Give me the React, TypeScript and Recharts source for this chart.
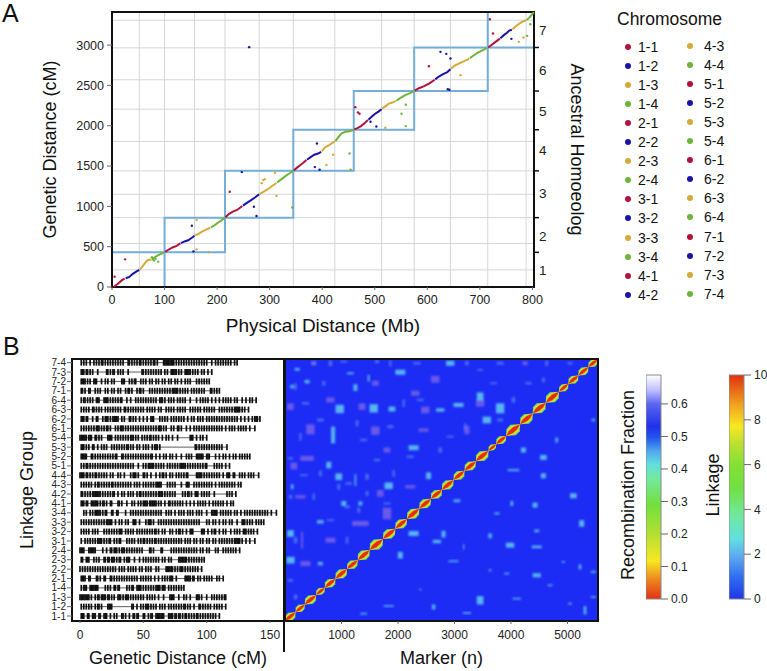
import React from "react";
import {
  Bar,
  BarChart,
  CartesianGrid,
  ReferenceArea,
  Scatter,
  ScatterChart,
  XAxis,
  YAxis,
} from "recharts";

const FONT = '"Liberation Sans", Arial, sans-serif';
const RED = "#b3123c";
const BLUE = "#1a14a6";
const GOLD = "#d5aa38";
const GREEN = "#6db53a";
const GROUP_COLORS = [RED, BLUE, GOLD, GREEN];

const groupNames = [
  "1-1", "1-2", "1-3", "1-4", "2-1", "2-2", "2-3", "2-4", "3-1", "3-2", "3-3", "3-4", "4-1", "4-2",
  "4-3", "4-4", "5-1", "5-2", "5-3", "5-4", "6-1", "6-2", "6-3", "6-4", "7-1", "7-2", "7-3", "7-4",
];

// physical (Mb) vs genetic (cM) trace of each linkage group
const groupTraces = [
  [[3, 0], [8, 25], [14, 55], [19, 85], [24, 105]],
  [[26, 108], [33, 125], [39, 160], [46, 190], [52, 212]],
  [[53, 215], [58, 255], [63, 300], [68, 335], [75, 342]],
  [[76, 345], [82, 372], [88, 395], [94, 415], [100, 432]],
  [[101, 435], [108, 465], [115, 490], [123, 510], [130, 540]],
  [[131, 545], [138, 565], [145, 580], [152, 610], [157, 635]],
  [[158, 640], [165, 660], [172, 690], [180, 715], [187, 735]],
  [[188, 740], [195, 765], [202, 800], [209, 830], [215, 860]],
  [[216, 865], [222, 905], [230, 935], [238, 955], [248, 1005]],
  [[249, 1010], [256, 1040], [264, 1075], [272, 1110], [280, 1150]],
  [[281, 1155], [288, 1180], [296, 1210], [304, 1250], [313, 1290]],
  [[314, 1295], [322, 1335], [330, 1375], [338, 1410], [345, 1440]],
  [[346, 1445], [352, 1480], [358, 1510], [364, 1540], [370, 1574]],
  [[371, 1578], [378, 1610], [385, 1640], [392, 1655], [398, 1677]],
  [[399, 1682], [405, 1730], [412, 1755], [418, 1780], [424, 1805]],
  [[425, 1810], [431, 1860], [437, 1905], [444, 1925], [452, 1930], [460, 1950]],
  [[461, 1955], [467, 1970], [474, 1995], [481, 2035], [487, 2070]],
  [[488, 2075], [494, 2110], [500, 2145], [507, 2175], [513, 2205]],
  [[514, 2210], [520, 2240], [526, 2270], [532, 2285], [540, 2305]],
  [[541, 2310], [549, 2345], [558, 2380], [566, 2400], [575, 2430]],
  [[576, 2435], [584, 2465], [594, 2490], [604, 2525], [614, 2570]],
  [[615, 2575], [622, 2610], [630, 2640], [638, 2665], [644, 2700]],
  [[645, 2705], [652, 2745], [660, 2770], [670, 2800], [680, 2833]],
  [[681, 2838], [688, 2870], [696, 2905], [705, 2935], [714, 2965]],
  [[716, 2970], [722, 3000], [728, 3030], [733, 3055], [738, 3080]],
  [[739, 3085], [745, 3120], [751, 3150], [756, 3180], [761, 3190]],
  [[762, 3195], [768, 3230], [775, 3265], [781, 3290], [788, 3308]],
  [[789, 3312], [794, 3340], [798, 3370], [803, 3408]],
];

const redOutliers = [[5, 128], [25, 343], [224, 1181], [463, 2230], [468, 2165], [471, 2148], [603, 2738], [719, 3321], [725, 3143]];
const blueOutliers = [[261, 2974], [152, 760], [155, 442], [247, 1425], [270, 995], [275, 880], [390, 1780], [386, 1487], [395, 1454], [492, 2049], [503, 1991], [625, 2916], [636, 2891], [644, 2834], [639, 2453], [642, 2445], [760, 3077]];
const goldOutliers = [[161, 830], [161, 467], [184, 434], [310, 1417], [291, 1338], [288, 1326], [285, 1288], [313, 1131], [408, 1512], [421, 1640], [520, 1975], [663, 2627], [774, 3040], [783, 3094]];
const greenOutliers = [[76, 370], [78, 345], [80, 330], [83, 350], [88, 315], [343, 987], [452, 1656], [454, 1454], [551, 2148], [559, 2260], [559, 1995], [790, 3114], [796, 3259]];

const chromosomeEdgesMb = [25, 52, 75, 100, 130, 157, 187, 215, 248, 280, 313, 345, 370, 398, 424, 460, 487, 513, 540, 575, 614, 644, 680, 715, 738, 761, 788];
const chromosomeEdgesCm = [105, 212, 342, 432, 540, 635, 735, 860, 1005, 1150, 1290, 1440, 1574, 1677, 1805, 1950, 2070, 2205, 2305, 2430, 2570, 2700, 2833, 2965, 3080, 3190, 3308];

// [x1, x2, y1, y2] of the blue homoeolog boxes
const homoeologBoxes = [
  [0, 100, 0, 430],
  [100, 215, 430, 860],
  [215, 345, 860, 1440],
  [345, 460, 1440, 1950],
  [460, 575, 1950, 2430],
  [575, 715, 2430, 2970],
  [715, 803, 2970, 3410],
];
const homoeologEdges = [430, 860, 1440, 1950, 2430, 2970];
const homoeologMids = [210, 632, 1165, 1698, 2181, 2689, 3185];

// marker positions (cM) on each linkage group, same order as groupNames
const markerPositions = [
  [1, 2, 3, 6, 7, 10, 11, 12, 15, 16, 19, 20, 21, 24, 27, 29, 33, 34, 36, 39, 42, 43, 45, 46, 50, 51, 54, 56, 57, 60, 61, 62, 63, 64, 65, 66, 70, 71, 72, 73, 75, 76, 78, 79, 81, 83, 84, 86, 88, 90, 92, 93, 95, 97, 99, 101, 103, 105, 107, 110],
  [1, 3, 5, 7, 9, 12, 14, 15, 17, 22, 23, 24, 25, 41, 42, 45, 48, 50, 52, 53, 54, 56, 58, 60, 63, 65, 67, 70, 72, 74, 76, 78, 80, 82, 83, 85, 87, 90, 94, 95, 97, 99, 101, 103, 106, 108, 110, 112, 115],
  [0, 1, 2, 3, 4, 5, 6, 7, 9, 12, 14, 15, 17, 18, 19, 20, 22, 23, 25, 27, 30, 31, 32, 34, 36, 37, 38, 40, 42, 44, 46, 48, 50, 53, 55, 57, 59, 62, 66, 71, 72, 73, 74, 78, 82, 84, 87, 92, 93, 94, 96, 100, 104, 106, 108, 110, 112, 114, 115],
  [1, 3, 4, 5, 8, 9, 10, 11, 12, 13, 14, 20, 22, 24, 27, 28, 30, 31, 37, 39, 41, 42, 45, 46, 47, 48, 50, 52, 54, 56, 58, 60, 61, 62, 63, 65, 66, 67, 70, 72, 74, 76, 78, 80, 82],
  [1, 2, 3, 4, 7, 8, 13, 14, 16, 19, 20, 24, 25, 27, 29, 31, 33, 35, 37, 39, 41, 43, 45, 48, 50, 52, 54, 56, 59, 62, 65, 67, 69, 71, 72, 73, 76, 83, 84, 85, 86, 87, 89, 90, 93, 95, 98, 100, 102, 104, 108, 110, 113],
  [0, 2, 4, 6, 8, 10, 12, 14, 16, 18, 20, 22, 24, 26, 28, 31, 33, 35, 38, 40, 42, 44, 47, 49, 52, 54, 56, 60, 62, 68, 69, 70, 71, 72, 73, 75, 77, 79, 80, 81, 83, 85, 87, 89, 91, 93, 96],
  [1, 2, 5, 6, 7, 11, 13, 15, 19, 20, 22, 23, 25, 26, 27, 29, 31, 32, 35, 37, 38, 39, 43, 47, 50, 52, 54, 56, 58, 60, 62, 65, 67, 70, 72, 78, 79, 80, 81, 82, 83, 84, 86, 88, 90, 92, 94, 96, 98],
  [0, 1, 2, 3, 7, 8, 9, 10, 11, 12, 18, 21, 24, 25, 27, 28, 29, 31, 33, 34, 35, 37, 39, 41, 43, 45, 47, 49, 55, 56, 58, 64, 65, 72, 74, 76, 78, 80, 82, 84, 86, 88, 90, 92, 95, 97, 100, 102, 107, 109, 113, 115, 117, 119, 121, 123, 126],
  [1, 4, 6, 8, 10, 12, 14, 15, 16, 17, 19, 21, 23, 24, 27, 29, 31, 32, 37, 39, 41, 43, 46, 48, 50, 51, 53, 55, 57, 59, 60, 62, 64, 66, 68, 70, 72, 74, 76, 78, 80, 83, 85, 87, 90, 92, 95, 97, 100, 102, 105, 107, 110, 112, 114, 116, 118, 120, 122, 123, 124, 125, 126, 128, 131, 134, 138],
  [1, 3, 5, 7, 10, 12, 14, 19, 21, 23, 25, 27, 29, 31, 32, 33, 36, 38, 40, 42, 45, 47, 49, 51, 53, 55, 57, 59, 60, 62, 65, 67, 71, 73, 76, 78, 79, 81, 84, 87, 88, 89, 96, 97, 98, 101, 104, 106, 107, 110, 113, 115, 119, 122, 124, 126, 129, 130, 131, 133, 135, 137, 140],
  [1, 3, 5, 7, 9, 11, 13, 15, 17, 19, 21, 22, 23, 24, 25, 28, 31, 33, 36, 38, 42, 43, 44, 47, 52, 54, 55, 56, 58, 62, 64, 66, 68, 70, 72, 74, 76, 78, 80, 82, 84, 86, 88, 90, 92, 94, 100, 102, 105, 107, 110, 113, 115, 118, 120, 124, 128, 129, 130, 132, 134, 136, 139, 141, 143, 145],
  [3, 5, 8, 10, 12, 13, 14, 15, 16, 18, 20, 21, 25, 26, 29, 30, 36, 40, 42, 44, 46, 48, 50, 52, 54, 56, 58, 60, 62, 64, 68, 70, 72, 75, 78, 80, 82, 85, 87, 89, 92, 94, 96, 100, 104, 105, 106, 107, 108, 111, 113, 115, 117, 119, 122, 124, 127, 130, 132, 134, 136, 138, 140, 142, 144, 146, 148, 151, 155],
  [1, 2, 3, 5, 6, 9, 10, 11, 12, 13, 14, 16, 18, 19, 21, 24, 25, 30, 31, 33, 37, 41, 43, 46, 48, 50, 51, 52, 53, 55, 56, 57, 58, 59, 60, 62, 64, 67, 70, 71, 73, 75, 77, 79, 81, 84, 87, 90, 93, 95, 97, 99, 102, 105, 107, 109, 111, 113, 116, 119, 121],
  [1, 2, 4, 6, 8, 10, 11, 12, 13, 14, 15, 16, 18, 20, 22, 24, 26, 27, 30, 33, 35, 38, 40, 42, 45, 47, 48, 50, 52, 54, 56, 58, 60, 62, 63, 64, 65, 67, 69, 71, 73, 75, 81, 83, 85, 86, 88, 91, 92, 93, 96, 98, 100, 102, 106, 116, 118, 120, 123],
  [1, 3, 5, 7, 9, 12, 14, 15, 17, 19, 21, 23, 25, 26, 28, 30, 32, 34, 36, 38, 40, 43, 45, 47, 50, 52, 54, 56, 58, 60, 61, 62, 63, 64, 69, 71, 73, 75, 80, 84, 85, 86, 90, 92, 94, 96, 98, 100, 102, 104, 107, 110, 112, 114, 116, 118, 120, 122, 125, 127],
  [0, 1, 2, 3, 5, 6, 8, 10, 12, 13, 15, 17, 19, 21, 24, 26, 30, 32, 35, 40, 42, 43, 44, 46, 50, 51, 53, 56, 60, 63, 65, 66, 68, 71, 73, 76, 78, 80, 82, 84, 85, 92, 93, 94, 95, 96, 98, 100, 102, 104, 106, 108, 110, 113, 116, 117, 118, 121, 122, 126, 128, 130, 133, 135, 137, 141],
  [1, 3, 5, 6, 8, 10, 12, 14, 16, 18, 20, 22, 24, 26, 28, 30, 32, 34, 36, 38, 40, 42, 46, 50, 52, 54, 55, 56, 57, 58, 60, 62, 64, 66, 69, 71, 73, 75, 77, 79, 80, 81, 82, 83, 85, 87, 89, 91, 93, 95, 97, 99, 100, 106, 108, 110, 112, 115, 118],
  [1, 2, 3, 4, 5, 9, 10, 12, 14, 16, 18, 20, 22, 24, 26, 28, 29, 33, 34, 36, 38, 40, 42, 44, 46, 48, 50, 52, 54, 56, 57, 60, 63, 66, 68, 71, 73, 76, 80, 84, 86, 88, 92, 93, 94, 95, 96, 97, 100, 101, 102, 107, 110, 113, 115, 118, 121, 123, 126, 128, 130, 132, 134],
  [1, 2, 3, 5, 7, 10, 11, 14, 17, 19, 21, 25, 27, 29, 31, 33, 35, 37, 38, 40, 42, 45, 47, 50, 52, 54, 57, 59, 60, 61, 63, 91, 92, 94, 96, 98, 100, 102, 104, 106, 108, 110, 112, 116],
  [0, 1, 2, 3, 4, 5, 7, 8, 9, 12, 13, 15, 17, 22, 23, 24, 25, 28, 30, 32, 34, 36, 38, 40, 41, 42, 44, 46, 49, 51, 53, 55, 56, 58, 60, 62, 65, 68, 70, 73, 77, 87, 88, 89, 92, 95, 97, 100],
  [1, 3, 5, 7, 9, 11, 13, 14, 15, 17, 19, 21, 22, 24, 28, 30, 32, 33, 34, 36, 38, 40, 42, 44, 46, 48, 50, 52, 54, 56, 58, 60, 62, 63, 64, 66, 68, 72, 74, 77, 78, 80, 84, 87, 90, 92, 94, 96, 98, 100, 102, 104, 106, 108, 110, 112, 115, 118, 120, 122, 125, 127, 129, 131, 134, 138],
  [1, 2, 3, 5, 6, 10, 13, 14, 18, 20, 21, 22, 24, 26, 27, 28, 29, 30, 33, 35, 39, 40, 42, 44, 47, 50, 53, 56, 57, 58, 63, 65, 67, 69, 72, 74, 76, 78, 80, 82, 85, 88, 90, 93, 95, 97, 100, 102, 104, 106, 108, 110, 112, 114, 116, 118, 120, 122, 124, 127, 130, 133, 136, 138, 139, 140, 142],
  [1, 3, 5, 7, 10, 11, 13, 15, 17, 20, 22, 24, 26, 28, 30, 32, 35, 36, 38, 40, 42, 44, 46, 48, 50, 53, 55, 57, 59, 62, 64, 68, 70, 72, 74, 77, 79, 81, 83, 87, 89, 91, 93, 95, 98, 100, 102, 104, 106, 110, 112, 114, 116, 118, 120, 122, 123, 124, 125, 126, 128, 130, 133],
  [1, 3, 4, 6, 8, 10, 13, 14, 15, 19, 20, 21, 22, 24, 26, 28, 30, 32, 33, 37, 40, 44, 46, 48, 50, 52, 54, 56, 58, 60, 63, 64, 65, 67, 70, 72, 74, 77, 79, 81, 83, 87, 92, 95, 97, 99, 101, 104, 107, 110, 113, 115, 117, 119, 122, 124, 128, 131, 134, 136, 139],
  [1, 2, 4, 7, 8, 12, 14, 16, 20, 22, 25, 27, 30, 32, 36, 38, 39, 41, 45, 47, 48, 50, 55, 57, 59, 61, 63, 65, 67, 69, 71, 73, 74, 75, 76, 77, 79, 81, 83, 85, 88, 90, 92, 94, 96, 98, 103, 104, 106, 108, 110],
  [1, 2, 3, 4, 6, 8, 11, 12, 13, 17, 20, 22, 25, 27, 33, 34, 35, 39, 41, 43, 44, 48, 50, 52, 55, 57, 60, 62, 65, 67, 70, 72, 75, 77, 80, 83, 85, 87, 92, 94, 96, 98, 100, 102],
  [1, 2, 3, 5, 6, 8, 10, 14, 21, 22, 24, 26, 27, 30, 32, 34, 38, 49, 50, 52, 54, 56, 58, 60, 62, 64, 67, 69, 72, 73, 74, 75, 76, 78, 80, 83, 84, 85, 86, 87, 89, 91, 93, 96, 98, 101, 104],
  [1, 3, 5, 8, 11, 13, 15, 17, 18, 20, 22, 24, 26, 28, 30, 32, 34, 38, 39, 41, 43, 45, 47, 48, 50, 52, 54, 56, 58, 59, 61, 66, 67, 68, 69, 70, 71, 72, 73, 74, 76, 78, 80, 82, 84, 86, 88, 90, 92, 94, 96, 98, 100, 104, 107, 109, 111, 113, 115, 117, 119, 122, 124],
];

// marker index at the start of each linkage group, last entry closes 7-4
const groupStarts = [0, 186, 350, 551, 704, 892, 1098, 1287, 1499, 1734, 1952, 2159, 2377, 2583, 2777, 2983, 3178, 3378, 3602, 3737, 3914, 4161, 4385, 4615, 4850, 5015, 5192, 5369, 5534];

// [x, y, xSpan, ySpan] off-diagonal linkage patches, in markers
const cyanPatches = [
  [969, 4483, 147, 177], [2041, 5260, 177, 106], [3071, 4568, 177, 85], [1835, 2859, 147, 141], [851, 3932, 71, 353],
  [97, 1850, 118, 141], [1570, 4497, 147, 177], [1893, 4483, 118, 106], [2748, 4462, 147, 71], [2541, 3071, 88, 141],
  [3808, 4497, 147, 212], [3454, 4744, 118, 177], [3572, 4250, 147, 141], [2924, 5450, 147, 106], [392, 5062, 88, 71],
  [215, 5323, 88, 56], [1157, 5238, 118, 42], [1481, 5133, 35, 141], [1246, 4935, 71, 141], [775, 3297, 88, 141],
  [1246, 2979, 30, 247], [951, 3050, 118, 141], [625, 2097, 118, 71], [97, 1285, 147, 141], [625, 1214, 88, 71],
  [1040, 2485, 88, 106], [2276, 3664, 177, 106], [127, 4956, 71, 71], [1334, 2485, 71, 85], [127, 2838, 47, 106],
  [1835, 318, 177, 35], [3454, 438, 118, 177], [4456, 967, 147, 85], [4456, 1906, 88, 56], [5251, 2062, 88, 141],
  [5104, 2648, 118, 106], [4574, 3071, 88, 106], [4574, 3459, 118, 106], [4809, 3827, 47, 106], [4044, 3191, 206, 42],
  [2689, 1680, 147, 71], [2806, 1836, 71, 141], [2276, 1850, 177, 106], [2041, 1391, 88, 141], [3042, 2542, 118, 56],
  [4014, 2485, 47, 106], [4426, 2450, 88, 106], [3631, 1800, 59, 106], [3984, 1603, 147, 106], [3160, 1567, 24, 106],
  [4456, 1567, 177, 56], [2983, 1264, 177, 35], [3631, 1073, 47, 42], [3926, 1003, 88, 35], [5221, 1144, 47, 106],
  [5457, 1038, 88, 42], [4927, 1250, 59, 35], [5457, 508, 88, 35], [5045, 367, 59, 42], [5310, 226, 47, 177],
  [2630, 297, 59, 106], [1393, 155, 118, 35], [4692, 755, 88, 35], [4220, 3615, 88, 106], [5457, 4250, 59, 56],
  [3749, 2273, 88, 42], [4103, 473, 147, 35], [3219, 169, 147, 35], [2394, 664, 35, 35],
];
const purplePatches = [
  [450, 4052, 147, 212], [1599, 4024, 147, 177], [1687, 2697, 118, 141], [1805, 2273, 147, 247], [1334, 2062, 295, 106],
  [392, 3438, 236, 106], [2659, 5111, 147, 141], [2483, 4462, 147, 141], [3454, 4603, 147, 141], [3219, 4038, 88, 177],
  [2453, 4038, 177, 71], [1805, 3615, 118, 106], [156, 3276, 118, 141], [362, 1214, 177, 106], [804, 4674, 147, 106],
  [1599, 5027, 118, 106], [509, 5450, 71, 85], [4250, 5450, 88, 85], [2306, 4815, 147, 106], [303, 1708, 35, 353],
  [97, 4532, 118, 141], [1363, 4532, 118, 141], [2218, 2838, 177, 71], [804, 1708, 177, 106], [274, 2626, 177, 71],
];
// faint specks and streaks above the diagonal
const faintPatches = [
  [509, 5450, 90, 60], [804, 5450, 60, 120], [1040, 5486, 120, 40], [1629, 5486, 70, 70], [1864, 5450, 40, 130], [2335, 5450, 130, 50],
  [3219, 5450, 60, 90], [3454, 5309, 100, 40], [3808, 5450, 120, 60], [4632, 5450, 50, 110], [5045, 5450, 90, 50], [186, 4956, 40, 150],
  [362, 4603, 130, 50], [686, 5027, 60, 90], [627, 4250, 120, 60], [274, 3897, 40, 160], [97, 3438, 90, 50], [333, 3085, 140, 40],
  [627, 3121, 50, 120], [1128, 2909, 120, 50], [97, 2626, 60, 80], [509, 2626, 40, 140], [1098, 2415, 100, 60], [1305, 2344, 50, 110],
  [804, 2132, 130, 40], [186, 1709, 60, 130], [1098, 1709, 40, 150], [97, 861, 90, 60], [186, 508, 60, 100], [1393, 3827, 120, 50],
  [1275, 4180, 50, 130], [1864, 4109, 110, 60], [2100, 4603, 40, 160], [2394, 4674, 120, 50], [2748, 3615, 60, 110], [2924, 3897, 130, 40],
  [3190, 4109, 40, 140], [3808, 4250, 100, 60], [4044, 4674, 60, 120], [4309, 5027, 110, 50], [4574, 5097, 50, 100], [3690, 5027, 120, 40],
  [1923, 3121, 40, 150], [2218, 3474, 130, 50], [1452, 3050, 60, 120], [1629, 3403, 110, 50], [951, 2838, 50, 120], [1805, 2485, 130, 40],
  [1452, 2697, 50, 100],
];

const recombTicks = [0, 0.1, 0.2, 0.3, 0.4, 0.5, 0.6];
const recombStops = [
  [0, "#e03212"], [0.09, "#ee8a1e"], [0.17, "#f8e822"], [0.28, "#b8e030"], [0.42, "#72e03c"], [0.54, "#74e8a0"],
  [0.6, "#62e0dc"], [0.66, "#50a8f0"], [0.72, "#2256ee"], [0.77, "#2030ea"], [0.87, "#5a66f0"], [0.93, "#bcbcff"], [1, "#ffffff"],
];
const linkageTicks = [0, 2, 4, 6, 8, 10];
const linkageStops = [
  [0, "#2035e8"], [0.1, "#3070f0"], [0.2, "#60b0f0"], [0.27, "#60e0e0"], [0.37, "#70e8a0"], [0.5, "#70e040"],
  [0.6, "#84e034"], [0.7, "#c0e030"], [0.77, "#f8e820"], [0.87, "#f0a020"], [1, "#e03010"],
];

const toPoints = (pairs: number[][]) => pairs.map(([x, y]) => ({ x, y }));

const FRAME = { fill: "none", stroke: "#111", strokeWidth: 2 };
const smallDot = (r: number, color: string) => (p: any) => <circle cx={p.cx} cy={p.cy} r={r} fill={color} />;
const noDot = () => <g />;

function HomoeologTick({ x, y, payload }: any) {
  if (homoeologMids.includes(payload.value)) {
    return (
      <text x={x - 3} y={y + 5} fontSize={13.5} fill="#222" fontFamily={FONT}>
        {homoeologMids.indexOf(payload.value) + 1}
      </text>
    );
  }
  return <line x1={x - 8} x2={x - 3} y1={y} y2={y} stroke="#111" strokeWidth={1.5} />;
}

const LENS = [[0, 0], [0.02, 0.6], [0.3, 0.95], [1, 1], [0.98, 0.4], [0.7, 0.05]];
const LENS_LAYERS: [number, string][] = [[1, "#78dc60"], [0.72, "#d6e830"], [0.48, "#f39a18"], [0.36, "#e0300f"]];

function LensShape({ x, y, width, height }: any) {
  return (
    <g>
      {LENS_LAYERS.map(([k, color]) => (
        <polygon
          key={color}
          fill={color}
          points={LENS.map(([u, v]) => {
            const mid = (u + v) / 2;
            return `${x + (mid + k * (u - mid)) * width},${y + height - (mid + k * (v - mid)) * height}`;
          }).join(" ")}
        />
      ))}
    </g>
  );
}

const softPatch = (color: string, opacity: number) => (p: any) =>
  <rect x={p.x} y={p.y} width={p.width} height={p.height} fill={color} opacity={opacity} filter="url(#soft)" />;

function PanelA() {
  return (
    <div style={{ position: "absolute", left: 0, top: 0 }}>
      <ScatterChart width={600} height={345} margin={{ top: 12, right: 0, bottom: 0, left: 0 }}>
        <CartesianGrid stroke="#d4d6d8" strokeWidth={1} verticalValues={chromosomeEdgesMb} horizontalValues={chromosomeEdgesCm} />
        <XAxis
          dataKey="x"
          type="number"
          domain={[0, 803]}
          ticks={[0, 100, 200, 300, 400, 500, 600, 700, 800]}
          height={58}
          tickSize={3}
          tickMargin={5}
          axisLine={false}
          tick={{ fill: "#222", fontSize: 12.5, fontFamily: FONT }}
          label={{ value: "Physical Distance (Mb)", position: "center", dy: 9, style: { fontSize: 19, fill: "#111", fontFamily: FONT } }}
        />
        <YAxis
          dataKey="y"
          type="number"
          domain={[0, 3410]}
          ticks={[0, 500, 1000, 1500, 2000, 2500, 3000]}
          width={112}
          tickSize={5}
          tickMargin={3}
          axisLine={false}
          tick={{ fill: "#222", fontSize: 12.5, fontFamily: FONT }}
          label={{ value: "Genetic Distance (cM)", position: "center", angle: -90, dx: -6, style: { fontSize: 18, fill: "#111", fontFamily: FONT } }}
        />
        <YAxis
          yAxisId="homoeolog"
          orientation="right"
          type="number"
          dataKey="y"
          domain={[0, 3410]}
          ticks={[...homoeologEdges, ...homoeologMids].sort((a, b) => a - b)}
          interval={0}
          width={66}
          axisLine={false}
          tickLine={false}
          tick={<HomoeologTick />}
          label={{ value: "Ancestral Homoeolog", position: "center", angle: 90, dx: 10, style: { fontSize: 18, fill: "#111", fontFamily: FONT } }}
        />
        {homoeologBoxes.map(([x1, x2, y1, y2]) => (
          <ReferenceArea key={x1} x1={x1} x2={x2} y1={y1} y2={y2} fill="none" stroke="#74aed8" strokeWidth={2} ifOverflow="visible" />
        ))}
        {groupTraces.map((trace, i) => (
          <Scatter
            key={groupNames[i]}
            data={toPoints(trace)}
            isAnimationActive={false}
            line={{ stroke: GROUP_COLORS[i % 4], strokeWidth: 2 }}
            shape={noDot}
          />
        ))}
        <Scatter data={toPoints(redOutliers)} isAnimationActive={false} shape={smallDot(1.2, RED)} />
        <Scatter data={toPoints(blueOutliers)} isAnimationActive={false} shape={smallDot(1.2, BLUE)} />
        <Scatter data={toPoints(goldOutliers)} isAnimationActive={false} shape={smallDot(1.2, GOLD)} />
        <Scatter data={toPoints(greenOutliers)} isAnimationActive={false} shape={smallDot(1.2, GREEN)} />
        <Scatter
          yAxisId="homoeolog"
          data={homoeologMids.map((y) => ({ x: 0, y }))}
          isAnimationActive={false}
          shape={noDot}
        />
        <ReferenceArea x1={0} x2={803} y1={0} y2={3410} {...FRAME} ifOverflow="visible" />
      </ScatterChart>
    </div>
  );
}

function ChromosomeLegend() {
  return (
    <div style={{ position: "absolute", left: 0, top: 0, width: 767, color: "#111", fontFamily: FONT, whiteSpace: "nowrap" }}>
      <div style={{ position: "absolute", left: 617, top: 9, fontSize: 17.5 }}>Chromosome</div>
      {groupNames.map((name, i) => {
        const col = i < 14 ? 0 : 1;
        const row = i % 14;
        const top = 46.5 + row * 19.1 - col;
        return (
          <React.Fragment key={name}>
            <div style={{ position: "absolute", left: col ? 687 : 624.5, top: top - 3, width: 6, height: 6, borderRadius: 3, background: GROUP_COLORS[i % 4] }} />
            <div style={{ position: "absolute", left: col ? 704 : 638, top: top - 8, fontSize: 14, lineHeight: "16px" }}>{name}</div>
          </React.Fragment>
        );
      })}
    </div>
  );
}

function LinkageMap() {
  return (
    <div style={{ position: "absolute", left: 0, top: 340 }}>
      <ScatterChart width={285} height={331} margin={{ top: 19, right: 1, bottom: 0, left: 0 }}>
        <XAxis
          dataKey="x"
          type="number"
          domain={[-6.3, 161]}
          ticks={[0, 50, 100, 150]}
          height={50}
          tickSize={2}
          tickMargin={7}
          axisLine={false}
          tick={{ fill: "#222", fontSize: 12, fontFamily: FONT }}
          label={{ value: "Genetic Distance (cM)", position: "center", dy: 12, style: { fontSize: 18, fill: "#111", fontFamily: FONT } }}
        />
        <YAxis
          dataKey="y"
          type="number"
          domain={[0.47, 28.39]}
          ticks={groupNames.map((_, i) => i + 1)}
          interval={0}
          width={72}
          tickSize={5}
          tickMargin={1}
          axisLine={false}
          tickFormatter={(v) => groupNames[v - 1]}
          tick={{ fill: "#222", fontSize: 10, fontFamily: FONT }}
          label={{ value: "Linkage Group", position: "center", angle: -90, dx: -9, style: { fontSize: 18, fill: "#111", fontFamily: FONT } }}
        />
        {markerPositions.map((row, i) => (
          <Scatter
            key={groupNames[i]}
            data={row.map((x) => ({ x, y: i + 1 }))}
            isAnimationActive={false}
            line={{ stroke: "#333", strokeWidth: 0.8 }}
            shape={(p: any) => <rect x={p.cx - 0.85} y={p.cy - 3} width={1.7} height={6} fill="#111" />}
          />
        ))}
        <ReferenceArea x1={-6.3} x2={161} y1={0.47} y2={28.39} {...FRAME} ifOverflow="visible" />
      </ScatterChart>
    </div>
  );
}

function Heatmap() {
  return (
    <div style={{ position: "absolute", left: 284, top: 340 }}>
      <ScatterChart width={316} height={331} margin={{ top: 19, right: 2, bottom: 0, left: 1 }}>
        <defs>
          <filter id="soft" x="-60%" y="-60%" width="220%" height="220%">
            <feGaussianBlur stdDeviation="1.3" />
          </filter>
        </defs>
        <XAxis
          dataKey="x"
          type="number"
          domain={[0, 5540]}
          ticks={[1000, 2000, 3000, 4000, 5000]}
          height={50}
          tickSize={3}
          tickMargin={6}
          axisLine={false}
          tick={{ fill: "#222", fontSize: 12, fontFamily: FONT }}
          label={{ value: "Marker (n)", position: "center", dy: 12, style: { fontSize: 18, fill: "#111", fontFamily: FONT } }}
        />
        <YAxis dataKey="y" type="number" domain={[0, 5540]} hide />
        <ReferenceArea x1={0} x2={5540} y1={0} y2={5540} fill="#1c2cf4" fillOpacity={1} stroke="none" />
        {faintPatches.map(([x, y, w, h]) => (
          <ReferenceArea key={`f${x}-${y}`} x1={x - w / 2} x2={x + w / 2} y1={y - h / 2} y2={y + h / 2} shape={softPatch("#5a8cf4", 0.7)} />
        ))}
        {purplePatches.map(([x, y, w, h]) => (
          <ReferenceArea key={`p${x}-${y}`} x1={x - w / 2} x2={x + w / 2} y1={y - h / 2} y2={y + h / 2} shape={softPatch("#8468e8", 0.75)} />
        ))}
        {cyanPatches.map(([x, y, w, h]) => (
          <ReferenceArea key={`c${x}-${y}`} x1={x - w / 2} x2={x + w / 2} y1={y - h / 2} y2={y + h / 2} shape={softPatch("#62cdf0", 0.85)} />
        ))}
        {groupNames.map((name, i) => (
          <ReferenceArea
            key={name}
            x1={groupStarts[i]}
            x2={groupStarts[i + 1]}
            y1={groupStarts[i]}
            y2={groupStarts[i + 1]}
            shape={<LensShape />}
          />
        ))}
        {/* the group midpoints give the axes a series to scale against */}
        <Scatter
          data={groupNames.map((_, i) => ({ x: (groupStarts[i] + groupStarts[i + 1]) / 2, y: (groupStarts[i] + groupStarts[i + 1]) / 2 }))}
          isAnimationActive={false}
          shape={noDot}
        />
        <ReferenceArea x1={0} x2={5540} y1={0} y2={5540} {...FRAME} ifOverflow="visible" />
      </ScatterChart>
    </div>
  );
}

function ColorBar({ id, left, max, ticks, stops, digits }: { id: string; left: number; max: number; ticks: number[]; stops: (number | string)[][]; digits: number }) {
  return (
    <div style={{ position: "absolute", left, top: 367 }}>
      <BarChart width={65} height={240} data={[{ name: id, v: max }]} barCategoryGap={0} margin={{ top: 8, right: 0, bottom: 8, left: 0 }}>
        <defs>
          <linearGradient id={id} x1="0" y1="1" x2="0" y2="0">
            {stops.map(([offset, color]) => (
              <stop key={offset} offset={offset as number} stopColor={color as string} />
            ))}
          </linearGradient>
        </defs>
        <XAxis dataKey="name" hide />
        <YAxis
          orientation="right"
          type="number"
          domain={[0, max]}
          ticks={ticks}
          interval={0}
          width={50}
          tickSize={7}
          tickMargin={3}
          axisLine={false}
          tickFormatter={(v) => v.toFixed(digits)}
          tick={{ fill: "#222", fontSize: 12, fontFamily: FONT, textAnchor: "start" }}
        />
        <Bar dataKey="v" fill={`url(#${id})`} stroke="#8a8a8a" isAnimationActive={false} />
      </BarChart>
    </div>
  );
}

function RotatedTitle({ x, y, text }: { x: number; y: number; text: string }) {
  return (
    <div
      style={{
        position: "absolute",
        left: x,
        top: y,
        fontSize: 18,
        color: "#111",
        fontFamily: FONT,
        whiteSpace: "nowrap",
        transform: "translate(-50%, -50%) rotate(-90deg)",
      }}
    >
      {text}
    </div>
  );
}

export default function App() {
  return (
    <div style={{ position: "absolute", left: 0, top: 0, width: 767, height: 671, background: "#fff", overflow: "hidden" }}>
      <div style={{ position: "absolute", left: 2, top: -1, fontSize: 25, color: "#111", fontFamily: FONT }}>A</div>
      <div style={{ position: "absolute", left: 3, top: 332, fontSize: 25, color: "#111", fontFamily: FONT }}>B</div>
      <PanelA />
      <ChromosomeLegend />
      <LinkageMap />
      <Heatmap />
      <div style={{ position: "absolute", left: 283, top: 620, width: 2, height: 32, background: "#111" }} />
      <ColorBar id="recomb" left={646} max={0.689} ticks={recombTicks} stops={recombStops} digits={1} />
      <ColorBar id="linkage" left={729} max={10} ticks={linkageTicks} stops={linkageStops} digits={0} />
      <RotatedTitle x={628} y={485} text="Recombination Fraction" />
      <RotatedTitle x={713} y={485} text="Linkage" />
    </div>
  );
}
